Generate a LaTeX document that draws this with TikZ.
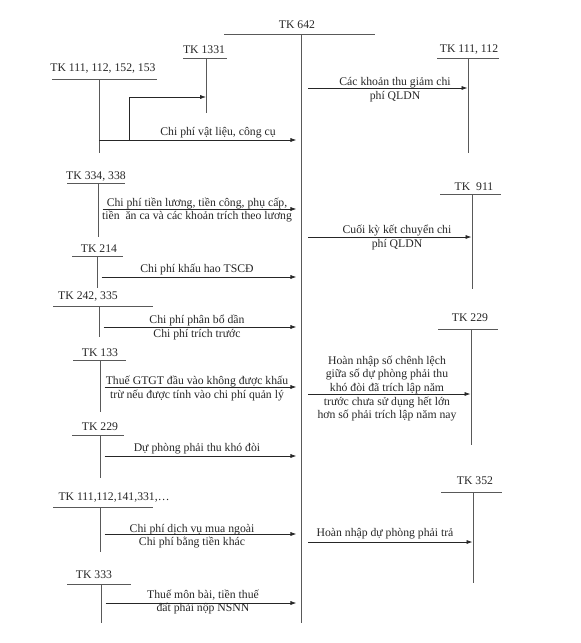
\documentclass[tikz,border=0pt]{standalone}
\usepackage{fontspec}
\setmainfont{Liberation Serif}
\usetikzlibrary{arrows.meta}

\begin{document}
\begin{tikzpicture}[
    x=0.03cm, y=-0.03cm,
    >={Latex[length=5pt,width=3.5pt]},
    acct/.style={font=\fontsize{10}{12}\selectfont, inner sep=0pt, text=black!85},
    tline/.style={draw=black!65, line width=0.6pt},
    flow/.style={->, line width=0.6pt, black!85, shorten <=4pt, shorten >=4pt},
    rflow/.style={->, line width=0.6pt, black!85, shorten <=6pt, shorten >=0.5pt},
    lbl/.style={font=\fontsize{10}{11.6}\selectfont, align=center, inner sep=0pt, text=black!85}
]
\useasboundingbox (0,0) rectangle (580,643);

% 1. Tên tài khoản
\node[acct] (tk642) at (297,25) {TK 642};
\node[acct] (tk1331) at (204,50) {TK 1331};
\node[acct] (tk111a) at (103,69) {TK 111, 112, 152, 153};
\node[acct] (tk111r) at (469,50) {TK 111, 112};
\node[acct] (tk334) at (96,177) {TK 334, 338};
\node[acct] (tk911) at (474,187) {TK~~911};
\node[acct] (tk214) at (99,249) {TK 214};
\node[acct] (tk242) at (88,297) {TK 242, 335};
\node[acct] (tk229r) at (470,318) {TK 229};
\node[acct] (tk133) at (100,353) {TK 133};
\node[acct] (tk229l) at (100,427) {TK 229};
\node[acct] (tk352) at (475,481) {TK 352};
\node[acct] (tk111b) at (114,498) {TK 111,112,141,331,\dots};
\node[acct] (tk333) at (94,575) {TK 333};

% 2. Chữ T của từng tài khoản
\draw[tline] (224,34) -- (375,34);  \draw[tline] (301,34) coordinate (v642) -- (301,623);
\draw[tline] (183,58) -- (227,58);  \draw[tline] (206,58) coordinate (v1331) -- (206,113);
\draw[tline] (52,79) -- (157,79);   \draw[tline] (99,79) coordinate (v111a) -- (99,153);
\draw[tline] (437,58) -- (499,58);  \draw[tline] (468,58) coordinate (v111r) -- (468,153);
\draw[tline] (67,183) -- (125,183); \draw[tline] (98,183) coordinate (v334) -- (98,237);
\draw[tline] (440,194) -- (501,194); \draw[tline] (472,194) coordinate (v911) -- (472,289);
\draw[tline] (72,256) -- (123,256); \draw[tline] (97,256) coordinate (v214) -- (97,288);
\draw[tline] (53,306) -- (153,306); \draw[tline] (99,306) coordinate (v242) -- (99,337);
\draw[tline] (438,329) -- (498,329); \draw[tline] (471,329) coordinate (v229r) -- (471,445);
\draw[tline] (73,360) -- (126,360); \draw[tline] (100,360) coordinate (v133) -- (100,412);
\draw[tline] (72,435) -- (124,435); \draw[tline] (100,435) coordinate (v229l) -- (100,478);
\draw[tline] (441,492) -- (502,492); \draw[tline] (473,492) coordinate (v352) -- (473,583);
\draw[tline] (53,507) -- (153,507); \draw[tline] (100,507) coordinate (v111b) -- (100,552);
\draw[tline] (67,584) -- (131,584); \draw[tline] (101,584) coordinate (v333) -- (101,623);

% 3. Bên Nợ TK 642
\coordinate (br) at (129,140);
\draw[flow, shorten <=0pt] (v111a |- 0,140) -- (v642 |- 0,140);
\draw[->, line width=0.6pt, black!85] (br) |- (v1331 |- 0,97);
\node[lbl] (l1) at (218,133) {Chi phí vật liệu, công cụ};

\draw[flow] (v334 |- 0,209) -- (v642 |- 0,209);
\node[lbl] (l3) at (197,210) {Chi phí tiền lương, tiền công, phụ cấp,\\tiền\ \ ăn ca và các khoản trích theo lương};

\draw[flow] (v214 |- 0,277) -- (v642 |- 0,277);
\node[lbl] (l5) at (197,270) {Chi phí khấu hao TSCĐ};

\draw[flow] (v242 |- 0,327) -- (v642 |- 0,327);
\node[lbl] (l6) at (197,327.5) {Chi phí phân bổ dần\\Chi phí trích trước};

\draw[flow] (v133 |- 0,387) -- (v642 |- 0,387);
\node[lbl] (l8) at (197,388.5) {Thuế GTGT đầu vào không được khấu\\trừ nếu được tính vào chi phí quản lý};

\draw[flow] (v229l |- 0,456) -- (v642 |- 0,456);
\node[lbl] (l9) at (197,449) {Dự phòng phải thu khó đòi};

\draw[flow] (v111b |- 0,534) -- (v642 |- 0,534);
\node[lbl] (l11) at (192,536) {Chi phí dịch vụ mua ngoài\\Chi phí bằng tiền khác};

\draw[flow] (v333 |- 0,603) -- (v642 |- 0,603);
\node[lbl] (l12) at (203,602) {Thuế môn bài, tiền thuế\\đất phải nộp NSNN};

% 4. Bên Có TK 642
\draw[rflow] (v642 |- 0,88) -- (v111r |- 0,88);
\node[lbl] (l2) at (395,89.5) {Các khoản thu giảm chi\\phí QLDN};

\draw[rflow] (v642 |- 0,237) -- (v911 |- 0,237);
\node[lbl] (l4) at (397,237.5) {Cuối kỳ kết chuyển chi\\phí QLDN};

\draw[rflow] (v642 |- 0,394) -- (v229r |- 0,394);
\node[lbl] (l7) at (387,388.5) {Hoàn nhập số chênh lệch\\giữa số dự phòng phải thu\\khó đòi đã trích lập năm\\trước chưa sử dụng hết lớn\\hơn số phải trích lập năm nay};

\draw[rflow] (v642 |- 0,542) -- (v352 |- 0,542);
\node[lbl] (l10) at (385,534) {Hoàn nhập dự phòng phải trả};

\end{tikzpicture}
\end{document}
